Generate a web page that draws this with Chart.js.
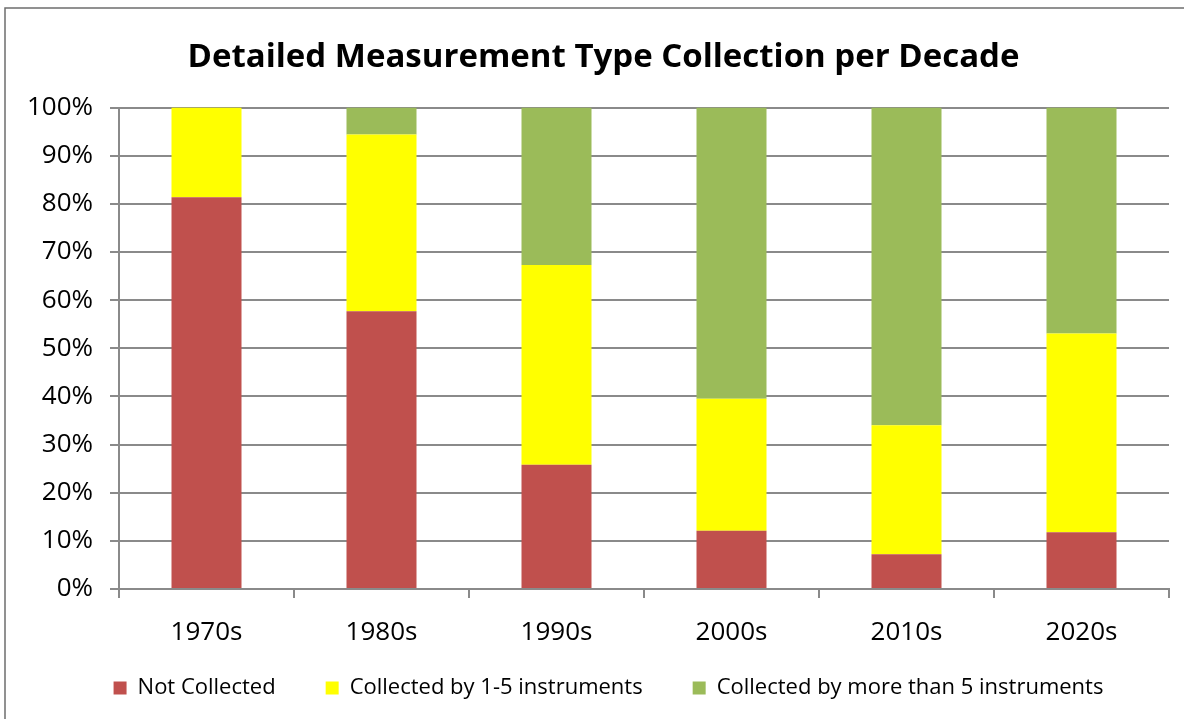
<!DOCTYPE html>
<html lang="en">
<head>
    <meta charset="utf-8" />
    <title>Detailed Measurement Type Collection per Decade</title>
    <script src="https://cdn.jsdelivr.net/npm/chart.js"></script>
    <style>
        html, body { margin: 0; padding: 0; background: #fff; }
        #wrap { position: relative; width: 1184px; height: 719px; }
    </style>
</head>
<body>
    <div id="wrap"><canvas id="chart" width="1184" height="719"></canvas></div>

    <script>
        // values, in percent of each decade
        const decades = ["1970s", "1980s", "1990s", "2000s", "2010s", "2020s"];
        const notCollected = [81.4, 57.7, 25.8, 12.1, 7.2, 11.8];
        const byOneToFive = [18.6, 36.7, 41.5, 27.4, 26.8, 41.3];
        const byMoreThanFive = [0, 5.6, 32.7, 60.5, 66.0, 46.9];
        const yTicks = [0, 10, 20, 30, 40, 50, 60, 70, 80, 90, 100];

        const FONT = "'Open Sans', sans-serif";
        const GRID = "#8a8a8a";

        const framePlugin = {
            id: "frame",
            afterLayout(chart) {
                // title and legend sit a bit right of centre in the original,
                // and the legend row keeps wide gaps without eating plot height
                chart.titleBlock.left += 19;
                chart.titleBlock.right += 19;
                const lg = chart.legend;
                lg.left += 24;
                lg.right += 24;
                lg.top = 627;
                lg.bottom = 719;
                lg.height = lg.bottom - lg.top;
            },
            afterDraw(chart) {
                // thin frame like the exported Excel chart
                const c = chart.ctx;
                c.save();
                c.strokeStyle = "#6e6e6e";
                c.lineWidth = 1.5;
                c.beginPath();
                c.moveTo(5, 719);
                c.lineTo(5, 8);
                c.lineTo(1184, 8);
                c.stroke();
                c.restore();
            }
        };

        new Chart(document.getElementById("chart"), {
            type: "bar",
            data: {
                labels: decades,
                datasets: [
                    { label: "Not Collected", data: notCollected, backgroundColor: "#C0504D" },
                    { label: "Collected by 1-5 instruments", data: byOneToFive, backgroundColor: "#FFFF00" },
                    { label: "Collected by more than 5 instruments", data: byMoreThanFive, backgroundColor: "#9BBB59" }
                ]
            },
            options: {
                responsive: false,
                animation: false,
                devicePixelRatio: 1,
                layout: { padding: { left: 0, right: 15, top: 0, bottom: 50.8 } },
                datasets: { bar: { categoryPercentage: 1, barPercentage: 0.4 } },
                plugins: {
                    title: {
                        display: true,
                        text: "Detailed Measurement Type Collection per Decade",
                        color: "#000",
                        font: { family: FONT, size: 33, weight: "bold" },
                        padding: { top: 38, bottom: 30 }
                    },
                    legend: {
                        position: "bottom",
                        maxHeight: 1,
                        labels: {
                            color: "#000",
                            font: { family: FONT, size: 22 },
                            boxWidth: 13,
                            boxHeight: 13,
                            padding: 50
                        }
                    },
                    tooltip: { enabled: false }
                },
                scales: {
                    x: {
                        stacked: true,
                        grid: { display: true, drawOnChartArea: false, drawTicks: true, tickLength: 9, color: GRID, lineWidth: 2 },
                        border: { color: GRID, width: 2 },
                        ticks: { color: "#000", font: { family: FONT, size: 26 }, padding: 19 }
                    },
                    y: {
                        stacked: true,
                        min: 0,
                        max: 100,
                        afterFit(scale) { scale.width = 119; },
                        afterBuildTicks(scale) { scale.ticks = yTicks.map(v => ({ value: v })); },
                        grid: { color: GRID, lineWidth: 2, tickLength: 9 },
                        border: { color: GRID, width: 2 },
                        ticks: {
                            color: "#000",
                            font: { family: FONT, size: 26 },
                            padding: 17,
                            callback: v => v + "%"
                        }
                    }
                }
            },
            plugins: [framePlugin]
        });
    </script>
</body>
</html>
